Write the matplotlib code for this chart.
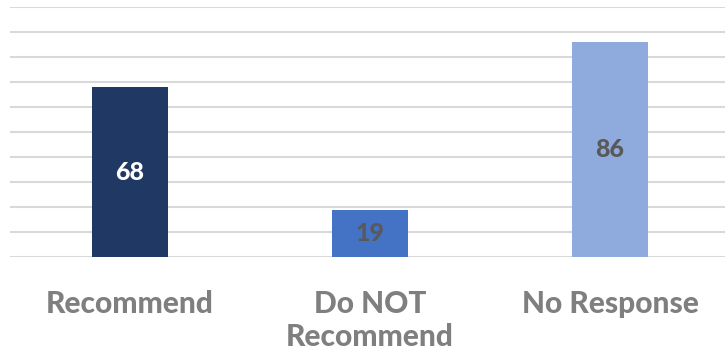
import matplotlib
matplotlib.use("Agg")
import matplotlib.pyplot as plt

categories = ["Recommend", "Do NOT\nRecommend", "No Response"]
values = [68, 19, 86]
bar_colors = ["#203864", "#4472C4", "#8FAADC"]
label_colors = ["#FFFFFF", "#595959", "#595959"]

fig = plt.figure(figsize=(7.25, 3.54), dpi=100)
ax = fig.add_axes([10/725, 97/354, 720/725, 250/354])

x = list(range(len(categories)))
ax.bar(x, values, width=0.317, color=bar_colors, zorder=3)
ax.set_xlim(-0.5, 2.5)
ax.set_ylim(0, 100)
ax.set_yticks(range(0, 101, 10))
ax.yaxis.grid(True, color="#D9D9D9", linewidth=1.5, zorder=0)
ax.tick_params(axis="y", left=False, labelleft=False)
ax.tick_params(axis="x", bottom=False, pad=20)
for s in ax.spines.values():
    s.set_visible(False)

ax.set_xticks(x)
ax.set_xticklabels(categories, fontsize=21.5, fontweight="black", color="#7F7F7F",
                   family=["Lato", "DejaVu Sans"], linespacing=1.25)

for xi, v, c in zip(x, values, label_colors):
    ax.text(xi, v / 2, str(v), ha="center", va="center", fontsize=18,
            fontweight="black", color=c, family=["Lato", "DejaVu Sans"], zorder=4)

fig.savefig("out.png", dpi=100)
